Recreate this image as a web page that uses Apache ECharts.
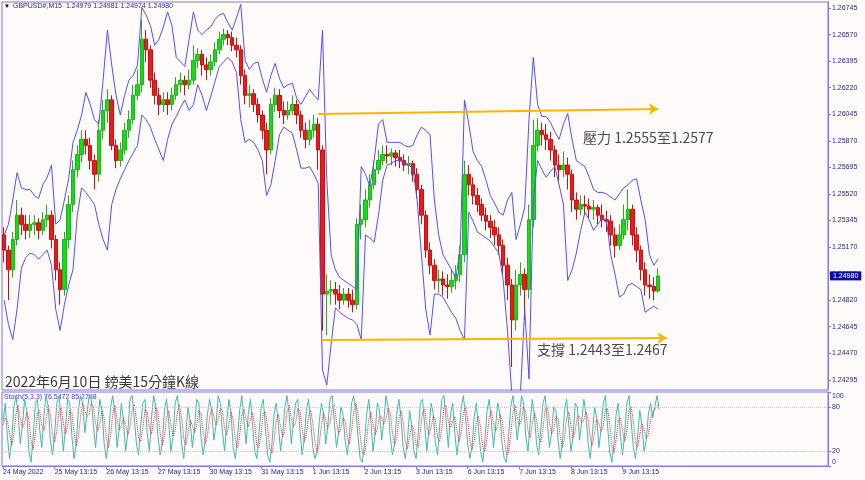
<!DOCTYPE html>
<html><head><meta charset="utf-8">
<script src="https://cdn.jsdelivr.net/npm/echarts@6/dist/echarts.min.js"></script>
<style>html,body{margin:0;padding:0;background:#fffafa;}#c{width:865px;height:480px;}</style>
</head><body><div id="c"></div>
<script>
// ---------- DATA ----------
const dayLabels = ['24 May 2022','25 May 13:15','26 May 13:15','27 May 13:15','30 May 13:15','31 May 13:15',
  '1 Jun 13:15','2 Jun 13:15','3 Jun 13:15','6 Jun 13:15','7 Jun 13:15','8 Jun 13:15','9 Jun 13:15'];

// 2-hour candles: [open, close, low, high]
const candles = [
[1.2525,1.2515,1.2507,1.2530],[1.2515,1.2502,1.2482,1.2518],[1.2502,1.2522,1.2497,1.2527],[1.2522,1.2538,1.2518,1.2548],[1.2538,1.2532,1.2525,1.2543],[1.2532,1.2528,1.2522,1.2538],
[1.2528,1.2532,1.2523,1.2538],[1.2532,1.2533,1.2525,1.2538],[1.2533,1.2528,1.2522,1.2536],[1.2528,1.2535,1.2525,1.2540],[1.2535,1.2538,1.2530,1.2545],[1.2538,1.2522,1.2516,1.2541],
[1.2522,1.2502,1.2495,1.2525],[1.2502,1.2489,1.2479,1.2507],[1.2489,1.2522,1.2485,1.2527],[1.2522,1.2545,1.2516,1.2551],[1.2545,1.2568,1.2540,1.2574],[1.2568,1.2578,1.2563,1.2584],
[1.2578,1.2588,1.2573,1.2594],[1.2588,1.2584,1.2578,1.2594],[1.2584,1.2574,1.2568,1.2589],[1.2574,1.2565,1.2555,1.2578],[1.2565,1.2594,1.2560,1.2601],[1.2594,1.2607,1.2588,1.2614],
[1.2607,1.2614,1.2599,1.2621],[1.2614,1.2584,1.2581,1.2617],[1.2584,1.2574,1.2569,1.2588],[1.2574,1.2581,1.2570,1.2586],[1.2581,1.2594,1.2578,1.2599],[1.2594,1.2601,1.2589,1.2607],
[1.2601,1.2617,1.2598,1.2624],[1.2617,1.2624,1.2614,1.2634],[1.2624,1.2654,1.2619,1.2667],[1.2654,1.2647,1.2639,1.2660],[1.2647,1.2627,1.2622,1.2650],[1.2627,1.2617,1.2611,1.2632],
[1.2617,1.2611,1.2604,1.2622],[1.2611,1.2614,1.2606,1.2619],[1.2614,1.2611,1.2604,1.2619],[1.2611,1.2617,1.2607,1.2622],[1.2617,1.2624,1.2614,1.2629],[1.2624,1.2627,1.2619,1.2632],
[1.2627,1.2624,1.2617,1.2630],[1.2624,1.2627,1.2621,1.2634],[1.2627,1.2640,1.2624,1.2650],[1.2640,1.2644,1.2635,1.2648],[1.2644,1.2637,1.2630,1.2647],[1.2637,1.2634,1.2627,1.2642],
[1.2634,1.2639,1.2630,1.2644],[1.2639,1.2647,1.2636,1.2652],[1.2647,1.2654,1.2644,1.2659],[1.2654,1.2657,1.2650,1.2661],[1.2657,1.2655,1.2650,1.2660],[1.2655,1.2650,1.2646,1.2659],
[1.2650,1.2647,1.2642,1.2655],[1.2647,1.2630,1.2624,1.2650],[1.2630,1.2617,1.2611,1.2634],[1.2617,1.2618,1.2609,1.2624],[1.2618,1.2611,1.2606,1.2621],[1.2611,1.2604,1.2599,1.2615],
[1.2604,1.2594,1.2588,1.2607],[1.2594,1.2581,1.2565,1.2599],[1.2581,1.2611,1.2578,1.2615],[1.2611,1.2617,1.2606,1.2622],[1.2617,1.2607,1.2602,1.2621],[1.2607,1.2604,1.2598,1.2613],
[1.2604,1.2607,1.2601,1.2613],[1.2607,1.2611,1.2604,1.2617],[1.2611,1.2604,1.2598,1.2614],[1.2604,1.2594,1.2589,1.2607],[1.2594,1.2588,1.2582,1.2599],[1.2588,1.2594,1.2584,1.2601],
[1.2594,1.2598,1.2589,1.2604],[1.2598,1.2581,1.2568,1.2602],[1.2581,1.2486,1.2462,1.2584],[1.2486,1.2488,1.2459,1.2499],[1.2488,1.2489,1.2479,1.2495],[1.2489,1.2486,1.2479,1.2494],
[1.2486,1.2482,1.2476,1.2492],[1.2482,1.2486,1.2479,1.2490],[1.2486,1.2482,1.2477,1.2490],[1.2482,1.2479,1.2474,1.2489],[1.2479,1.2532,1.2476,1.2536],[1.2532,1.2535,1.2522,1.2545],
[1.2535,1.2548,1.2530,1.2555],[1.2548,1.2558,1.2543,1.2565],[1.2558,1.2568,1.2555,1.2574],[1.2568,1.2574,1.2565,1.2581],[1.2574,1.2578,1.2571,1.2584],[1.2578,1.2577,1.2572,1.2584],
[1.2577,1.2579,1.2571,1.2582],[1.2579,1.2576,1.2570,1.2581],[1.2576,1.2574,1.2569,1.2581],[1.2574,1.2571,1.2567,1.2578],[1.2571,1.2572,1.2565,1.2577],[1.2572,1.2565,1.2560,1.2574],
[1.2565,1.2555,1.2549,1.2569],[1.2555,1.2538,1.2532,1.2558],[1.2538,1.2515,1.2510,1.2541],[1.2515,1.2505,1.2499,1.2520],[1.2505,1.2495,1.2489,1.2509],[1.2495,1.2496,1.2487,1.2502],
[1.2496,1.2492,1.2485,1.2501],[1.2492,1.2491,1.2483,1.2499],[1.2491,1.2495,1.2487,1.2502],[1.2495,1.2499,1.2489,1.2505],[1.2499,1.2512,1.2494,1.2518],[1.2512,1.2565,1.2507,1.2574],
[1.2565,1.2558,1.2551,1.2571],[1.2558,1.2551,1.2545,1.2563],[1.2551,1.2545,1.2540,1.2556],[1.2545,1.2538,1.2534,1.2549],[1.2538,1.2534,1.2528,1.2543],[1.2534,1.2530,1.2523,1.2538],
[1.2530,1.2525,1.2518,1.2535],[1.2525,1.2518,1.2512,1.2530],[1.2518,1.2505,1.2499,1.2522],[1.2505,1.2492,1.2482,1.2510],[1.2492,1.2469,1.2438,1.2496],[1.2469,1.2492,1.2462,1.2502],
[1.2492,1.2499,1.2485,1.2507],[1.2499,1.2489,1.2469,1.2503],[1.2489,1.2535,1.2483,1.2545],[1.2535,1.2584,1.2530,1.2601],[1.2584,1.2594,1.2580,1.2602],[1.2594,1.2591,1.2584,1.2599],
[1.2591,1.2588,1.2581,1.2598],[1.2588,1.2581,1.2574,1.2593],[1.2581,1.2571,1.2563,1.2584],[1.2571,1.2568,1.2560,1.2578],[1.2568,1.2571,1.2563,1.2580],[1.2571,1.2565,1.2555,1.2576],
[1.2565,1.2548,1.2540,1.2568],[1.2548,1.2542,1.2535,1.2553],[1.2542,1.2545,1.2538,1.2551],[1.2545,1.2544,1.2538,1.2551],[1.2544,1.2542,1.2536,1.2549],[1.2542,1.2543,1.2535,1.2548],
[1.2543,1.2538,1.2532,1.2545],[1.2538,1.2535,1.2530,1.2545],[1.2535,1.2534,1.2527,1.2541],[1.2534,1.2525,1.2518,1.2538],[1.2525,1.2518,1.2510,1.2530],[1.2518,1.2525,1.2515,1.2532],
[1.2525,1.2535,1.2522,1.2545],[1.2535,1.2542,1.2528,1.2555],[1.2542,1.2525,1.2518,1.2545],[1.2525,1.2515,1.2507,1.2530],[1.2515,1.2502,1.2495,1.2518],[1.2502,1.2492,1.2485,1.2507],
[1.2492,1.2491,1.2483,1.2499],[1.2491,1.2488,1.2482,1.2497],[1.2488,1.2498,1.2487,1.2503]
];

const upperBand = [
1.2525,1.2532,1.2548,1.2566,1.2556,1.2555,1.2555,1.2551,1.2549,1.2558,1.2563,1.2571,
1.2532,1.2535,1.2548,1.2562,1.2586,1.2594,1.2604,1.2619,1.2611,1.2601,1.2598,1.2627,
1.2660,1.2637,1.2617,1.2604,1.2617,1.2627,1.2630,1.2637,1.2675,1.2670,1.2663,1.2650,
1.2654,1.2662,1.2672,1.2663,1.2642,1.2639,1.2636,1.2654,1.2672,1.2660,1.2657,1.2660,
1.2662,1.2667,1.2670,1.2671,1.2665,1.2660,1.2668,1.2677,1.2640,1.2634,1.2638,1.2639,
1.2628,1.2619,1.2630,1.2638,1.2628,1.2622,1.2624,1.2625,1.2615,1.2611,1.2616,1.2621,
1.2617,1.2614,1.2660,1.2561,1.2512,1.2502,1.2497,1.2495,1.2493,1.2491,1.2489,1.2570,
1.2565,1.2557,1.2574,1.2598,1.2601,1.2586,1.2586,1.2586,1.2586,1.2584,1.2583,1.2584,
1.2591,1.2596,1.2594,1.2591,1.2548,1.2525,1.2512,1.2507,1.2502,1.2497,1.2515,1.2614,
1.2598,1.2580,1.2574,1.2570,1.2561,1.2551,1.2546,1.2540,1.2538,1.2548,1.2553,1.2522,
1.2532,1.2543,1.2601,1.2642,1.2611,1.2603,1.2603,1.2599,1.2593,1.2588,1.2598,1.2605,
1.2588,1.2574,1.2572,1.2570,1.2563,1.2555,1.2553,1.2553,1.2552,1.2550,1.2548,1.2552,
1.2556,1.2558,1.2561,1.2562,1.2548,1.2535,1.2512,1.2505,1.2509
];

const lowerBand = [
1.2482,1.2466,1.2456,1.2476,1.2503,1.2510,1.2513,1.2512,1.2509,1.2512,1.2515,1.2505,
1.2476,1.2462,1.2479,1.2492,1.2502,1.2538,1.2556,1.2553,1.2549,1.2545,1.2532,1.2522,
1.2515,1.2545,1.2555,1.2562,1.2568,1.2574,1.2579,1.2584,1.2604,1.2601,1.2596,1.2588,
1.2581,1.2574,1.2588,1.2598,1.2603,1.2609,1.2614,1.2607,1.2611,1.2624,1.2617,1.2607,
1.2616,1.2626,1.2636,1.2639,1.2642,1.2639,1.2632,1.2601,1.2586,1.2588,1.2586,1.2581,
1.2574,1.2551,1.2558,1.2574,1.2591,1.2596,1.2594,1.2592,1.2581,1.2569,1.2569,1.2570,
1.2565,1.2559,1.2436,1.2426,1.2453,1.2477,1.2474,1.2472,1.2470,1.2469,1.2466,1.2456,
1.2525,1.2523,1.2520,1.2538,1.2561,1.2571,1.2572,1.2574,1.2574,1.2572,1.2571,1.2569,
1.2548,1.2512,1.2476,1.2459,1.2486,1.2486,1.2484,1.2479,1.2474,1.2470,1.2462,1.2456,
1.2540,1.2534,1.2527,1.2525,1.2523,1.2521,1.2517,1.2513,1.2495,1.2462,1.2420,1.2420,
1.2420,1.2476,1.2430,1.2548,1.2574,1.2568,1.2563,1.2567,1.2570,1.2558,1.2545,1.2495,
1.2502,1.2513,1.2528,1.2540,1.2535,1.2528,1.2532,1.2536,1.2535,1.2512,1.2499,1.2484,
1.2486,1.2492,1.2493,1.2491,1.2489,1.2474,1.2476,1.2478,1.2476
];

// hourly Stochastic(5,3,3)
const stochK = [
60,85,40,10,35,80,95,70,30,55,90,75,20,5,40,85,90,50,25,70,95,80,35,15,
45,85,95,60,20,50,90,85,40,10,30,75,95,85,45,70,95,90,55,25,60,90,75,30,
10,35,80,95,70,25,50,85,60,20,45,90,95,65,30,15,55,85,90,45,20,65,95,80,
40,15,30,75,90,60,20,40,85,95,70,30,10,45,80,60,25,50,90,85,40,15,35,70,
90,75,35,55,95,85,45,20,60,90,70,25,10,40,75,95,60,30,70,90,55,20,10,45,
80,90,50,15,5,30,70,85,55,20,45,80,95,70,30,60,85,90,50,15,35,75,90,60,
25,10,20,60,85,70,30,55,90,95,60,25,45,80,70,35,15,40,85,95,75,40,10,5,
30,70,90,60,20,45,85,75,35,60,95,80,40,15,30,70,90,65,25,10,35,75,55,20,
10,45,85,90,55,20,50,85,70,30,15,55,90,95,60,25,70,85,45,15,40,80,95,65,
30,10,25,65,85,50,20,5,35,75,90,60,25,55,85,70,30,10,5,40,80,95,70,35,
60,95,85,40,20,55,90,70,30,15,50,85,95,60,25,45,80,75,35,10,30,75,90,55,
20,40,85,80,35,60,90,70,30,10,45,80,65,25,50,85,95,55,20,5,30,70,85,40,
15,45,85,95,60,25,10,40,75,55,20,35,70,85,65,80,95,76.5472
];
const stochD = [
55,65,62,45,28,42,70,82,65,52,58,73,62,33,22,43,72,75,55,48,63,82,70,43,
32,48,75,80,58,43,53,75,72,45,27,38,67,85,75,67,70,85,80,57,47,58,75,65,
38,25,42,70,82,63,48,53,65,55,42,52,77,83,63,37,33,52,77,73,52,43,60,80,
72,45,28,40,65,75,57,40,48,73,83,65,37,28,45,62,55,45,55,75,72,47,30,40,
65,78,67,55,62,78,75,50,42,57,73,62,35,25,42,70,77,62,53,63,72,55,28,25,
45,72,73,52,23,17,35,62,70,53,40,48,73,82,65,53,58,78,75,52,33,42,67,75,
58,32,18,30,55,72,62,52,58,80,82,60,43,50,65,62,40,30,47,73,85,70,42,18,
15,35,63,73,57,42,50,68,65,57,63,78,72,45,28,38,63,75,60,33,23,40,55,50,
28,25,47,73,77,55,42,52,68,62,38,33,53,80,82,60,52,60,67,48,33,45,72,80,
63,35,22,33,58,67,52,25,20,38,67,75,58,47,55,70,62,37,15,18,42,72,82,67,
55,63,80,73,48,38,55,72,63,38,32,50,77,80,60,43,50,67,63,40,25,38,65,73,
55,38,48,68,67,58,62,73,63,37,28,45,63,57,47,53,77,78,57,27,18,35,62,65,
47,33,48,75,80,60,32,25,42,57,50,37,42,63,73,77,80,85.2798
];

const priceTicks = [1.26745,1.26570,1.26395,1.26220,1.26045,1.25870,1.25695,1.25520,1.25345,1.25170,1.24995,1.24820,1.24645,1.24470,1.24295];
const stochTicks = [0,20,80,100];
const stochLevels = [80,20];
const lastPrice = 1.24980;
const symbolName = 'GBPUSD#,M15';
const headerQuote = ['1.24979','1.24981','1.24974','1.24980'];
const stochName = 'Stoch(5,3,3)';
const stochValues = ['76.5472','85.2798'];
// author's arrows: [candle index, price]
const resistanceArrow = [[73,1.26047],[152,1.26080]];
const supportArrow = [[74,1.24558],[154,1.24571]];
const titleText = '2022年6月10日 鎊美15分鐘K線';
const resistanceText = '壓力 1.2555至1.2577';
const supportText = '支撐 1.2443至1.2467';

// ---------- CHART ----------
const MAIN_SLOTS = 192, STOCH_SLOTS = 384;
const mainCats = Array.from({length: MAIN_SLOTS}, (_, i) => 'm' + i);
const stochCats = Array.from({length: STOCH_SLOTS}, (_, i) => 's' + i);
const AX = '#26268c';
const FRAME = '#7a7ae0';
const FONT = 'Liberation Sans, Arial, sans-serif';
const CJK = '"Noto Sans CJK TC", "Noto Sans CJK SC", sans-serif';
const dayTick = (idx) => idx % 24 === 0 && idx / 24 < dayLabels.length;

const chart = echarts.init(document.getElementById('c'), null, {renderer: 'canvas'});
chart.setOption({
  animation: false,
  backgroundColor: '#fffafa',
  grid: [
    {left: 2, right: 37, top: 2, height: 388, show: true, borderColor: FRAME, borderWidth: 1, backgroundColor: 'transparent'},
    {left: 2, right: 37, top: 392, height: 74, show: true, borderColor: FRAME, borderWidth: 1, backgroundColor: 'transparent'}
  ],
  xAxis: [
    {type: 'category', gridIndex: 0, data: mainCats, boundaryGap: true,
     axisLine: {show: false}, axisTick: {show: false}, axisLabel: {show: false}, splitLine: {show: false}},
    {type: 'category', gridIndex: 1, data: stochCats, boundaryGap: true,
     axisLine: {show: true, lineStyle: {color: FRAME, width: 1}},
     axisTick: {show: true, interval: (i) => dayTick(i), alignWithLabel: true, length: 3, lineStyle: {color: FRAME}},
     axisLabel: {show: true, interval: (i) => dayTick(i), formatter: (v, i) => dayLabels[i / 24] || '',
       align: 'left', margin: 3, color: AX, fontSize: 7, fontFamily: FONT},
     splitLine: {show: false}}
  ],
  yAxis: [
    {type: 'value', gridIndex: 0, position: 'right', min: 1.24228, max: 1.26785, scale: true,
     axisLine: {show: true, lineStyle: {color: FRAME}},
     axisTick: {show: true, length: 3, customValues: priceTicks, lineStyle: {color: FRAME}},
     axisLabel: {show: true, customValues: priceTicks, formatter: v => v.toFixed(5), margin: 4,
       color: AX, fontSize: 7, fontFamily: FONT},
     splitLine: {show: false}},
    {type: 'value', gridIndex: 0, position: 'right', min: 1.24228, max: 1.26785, scale: true,
     axisLine: {show: false}, axisTick: {show: false}, splitLine: {show: false},
     axisLabel: {show: true, customValues: [lastPrice], formatter: v => v.toFixed(5), margin: 2,
       color: '#ffffff', backgroundColor: '#0c0c9a', padding: [1, 3, 1, 3], fontSize: 7, fontFamily: FONT}},
    {type: 'value', gridIndex: 1, position: 'right', min: 0, max: 100,
     axisLine: {show: true, lineStyle: {color: FRAME}},
     axisTick: {show: true, length: 3, customValues: stochTicks, lineStyle: {color: FRAME}},
     axisLabel: {show: true, customValues: stochTicks, margin: 4, color: AX, fontSize: 7, fontFamily: FONT,
       formatter: v => v === 100 ? '{t|100}' : (v === 0 ? '{b|0}' : String(v)),
       rich: {t: {padding: [9, 0, 0, 0], color: AX, fontSize: 7, fontFamily: FONT},
              b: {padding: [0, 0, 8, 0], color: AX, fontSize: 7, fontFamily: FONT}}},
     splitLine: {show: false}}
  ],
  series: [
    {type: 'candlestick', xAxisIndex: 0, yAxisIndex: 0, data: candles, barWidth: 4, z: 2,
     itemStyle: {color: '#10e010', color0: '#f01818', borderColor: '#20b020', borderColor0: '#c81010', borderWidth: 1},
     markLine: {silent: true, symbol: ['none', 'arrow'], symbolSize: 9, animation: false,
       label: {show: false}, lineStyle: {color: '#ffb400', width: 2, type: 'solid'},
       data: [
         [{coord: resistanceArrow[0]}, {coord: resistanceArrow[1]}],
         [{coord: supportArrow[0]}, {coord: supportArrow[1]}]
       ]}},
    {type: 'line', xAxisIndex: 0, yAxisIndex: 0, data: upperBand, showSymbol: false, z: 3,
     lineStyle: {color: '#5050ff', width: 1}, silent: true},
    {type: 'line', xAxisIndex: 0, yAxisIndex: 0, data: lowerBand, showSymbol: false, z: 3,
     lineStyle: {color: '#5050ff', width: 1}, silent: true},
    {type: 'line', xAxisIndex: 1, yAxisIndex: 2, data: stochK, showSymbol: false, z: 2,
     lineStyle: {color: '#38bdb5', width: 1}, silent: true,
     markLine: {silent: true, symbol: 'none', label: {show: false},
       lineStyle: {color: '#c8c8c8', type: 'dotted', width: 1},
       data: stochLevels.map(v => ({yAxis: v}))}},
    {type: 'line', xAxisIndex: 1, yAxisIndex: 2, data: stochD, showSymbol: false, z: 3,
     lineStyle: {color: '#ff2020', width: 1, type: 'dotted'}, silent: true}
  ],
  graphic: [
    {type: 'text', left: 4, top: 3, style: {text: '▼', fill: '#000', font: '6px ' + FONT}},
    {type: 'text', left: 13, top: 3, style: {text: symbolName + '  ' + headerQuote.join(' '), fill: '#2e2e7a', font: '7px ' + FONT}},
    {type: 'text', left: 4, top: 394, style: {text: stochName + ' ' + stochValues.join(' '), fill: '#3c3cd0', font: '7px ' + FONT}},
    {type: 'text', left: 5, top: 375, style: {text: titleText, fill: '#383838', font: '14px ' + CJK}},
    {type: 'text', left: 583, top: 131, style: {text: resistanceText, fill: '#4a4a4a', font: '14px ' + CJK}},
    {type: 'text', left: 537, top: 343, style: {text: supportText, fill: '#4a4a4a', font: '14px ' + CJK}}
  ]
});
</script></body></html>
